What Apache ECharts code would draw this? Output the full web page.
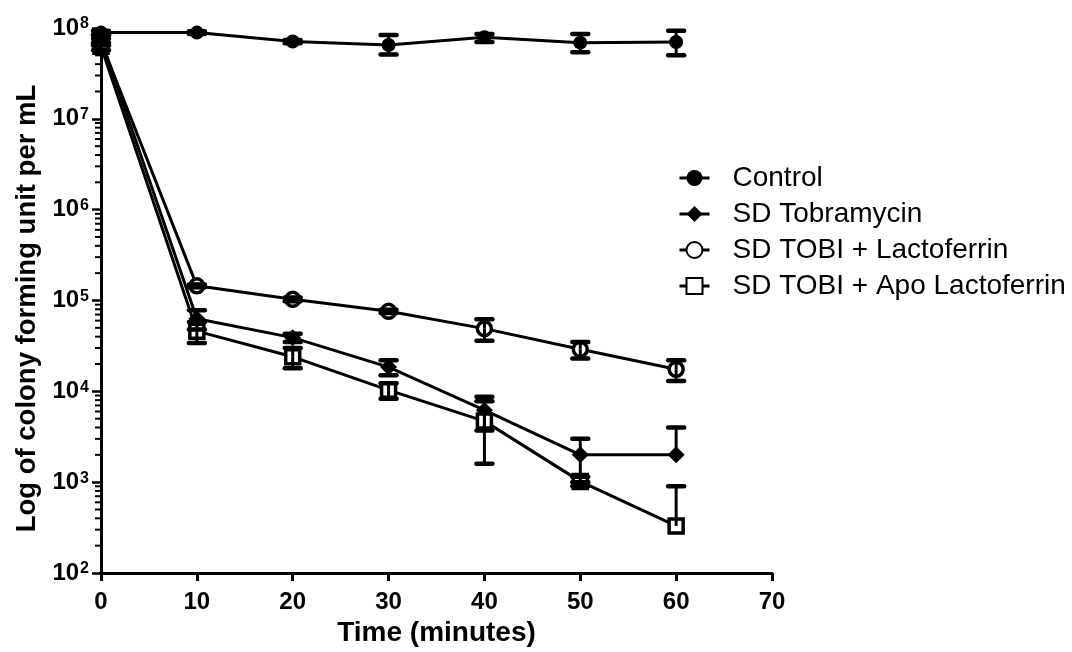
<!DOCTYPE html>
<html>
<head>
<meta charset="utf-8">
<script src="https://cdn.jsdelivr.net/npm/echarts@6/dist/echarts.min.js"></script>
<style>
html,body{margin:0;padding:0;background:#fff;}
#chart{width:1072px;height:652px;}
</style>
</head>
<body>
<div id="chart"></div>
<script>
const timeMinutes = [0, 10, 20, 30, 40, 50, 60];
const seriesNames = ['Control', 'SD Tobramycin', 'SD TOBI + Lactoferrin', 'SD TOBI + Apo Lactoferrin'];

const controlMean  = [8.9e7, 8.9e7, 7.1e7, 6.5e7, 7.9e7, 6.9e7, 7.0e7];
const controlUpper = [9.3e7, 9.2e7, 7.4e7, 8.4e7, 8.6e7, 8.6e7, 9.3e7];
const controlLower = [8.5e7, 8.6e7, 6.8e7, 5.1e7, 7.0e7, 5.4e7, 5.0e7];

const tobraMean  = [7.5e7, 6.3e4, 3.9e4, 1.85e4, 6.2e3, 2.0e3, 2.0e3];
const tobraUpper = [8.3e7, 7.8e4, 4.3e4, 2.2e4, 8.7e3, 3.0e3, 4.0e3];
const tobraLower = [6.7e7, 4.8e4, 3.5e4, 1.5e4, 3.7e3, 1.0e3, null];

const lactoMean  = [7.0e7, 1.45e5, 1.03e5, 7.6e4, 4.9e4, 2.9e4, 1.75e4];
const lactoUpper = [7.6e7, 1.5e5, 1.08e5, 7.9e4, 6.2e4, 3.5e4, 2.2e4];
const lactoLower = [6.4e7, 1.4e5, 0.98e5, 7.3e4, 3.6e4, 2.3e4, 1.3e4];

const apoMean  = [6.3e7, 4.6e4, 2.4e4, 1.03e4, 4.7e3, 1.02e3, 3.3e2];
const apoUpper = [6.9e7, 5.8e4, 3.0e4, 1.23e4, 7.8e3, 1.15e3, 9.0e2];
const apoLower = [5.7e7, 3.4e4, 1.8e4, 8.3e3, 1.6e3, 0.9e3, null];

const xTicks = [0, 10, 20, 30, 40, 50, 60, 70];
const yMin = 1e2, yMax = 1e8;

// minor log ticks (2..9 per decade)
const minorTickValues = [];
for (let e = 2; e < 8; e++) {
  for (let k = 2; k <= 9; k++) minorTickValues.push(k * Math.pow(10, e));
}

const FONT = 'Liberation Sans';

function pts(mean) { return timeMinutes.map((t, i) => [t, mean[i]]); }
function errData(mean, up, lo) {
  return timeMinutes.map((t, i) => [t, mean[i], up[i], lo[i] == null ? 0 : lo[i]]);
}

function errRender(params, api) {
  const x = api.value(0), m = api.value(1), up = api.value(2), lo = api.value(3);
  const pM = api.coord([x, m]);
  const children = [];
  const capHalf = 8;
  const lineStyle = {stroke: '#000', lineWidth: 3};
  const capStyle = {stroke: '#000', lineWidth: 4.5, lineCap: 'round'};
  if (up > 0) {
    const pU = api.coord([x, up]);
    children.push({type: 'line', shape: {x1: pM[0], y1: pM[1], x2: pU[0], y2: pU[1]}, style: lineStyle});
    children.push({type: 'line', shape: {x1: pU[0] - capHalf, y1: pU[1], x2: pU[0] + capHalf, y2: pU[1]}, style: capStyle});
  }
  if (lo > 0) {
    const pL = api.coord([x, lo]);
    children.push({type: 'line', shape: {x1: pM[0], y1: pM[1], x2: pL[0], y2: pL[1]}, style: lineStyle});
    children.push({type: 'line', shape: {x1: pL[0] - capHalf, y1: pL[1], x2: pL[0] + capHalf, y2: pL[1]}, style: capStyle});
  }
  return {type: 'group', children: children};
}

function errSeries(mean, up, lo) {
  return {
    type: 'custom', coordinateSystem: 'cartesian2d', clip: false, z: 5,
    renderItem: errRender, encode: {x: 0, y: 1}, silent: true,
    data: errData(mean, up, lo)
  };
}

function lineSeries(name, mean, symbol, size, filled) {
  return {
    name: name, type: 'line', data: pts(mean), symbol: symbol, symbolSize: size,
    showAllSymbol: true, z: 3,
    lineStyle: {color: '#000', width: 3},
    itemStyle: filled ? {color: '#000', borderColor: '#000', borderWidth: 0}
                      : {color: '#fff', borderColor: '#000', borderWidth: 3.5},
    emphasis: {disabled: true}
  };
}

const chart = echarts.init(document.getElementById('chart'), null, {renderer: 'canvas'});
chart.setOption({
  backgroundColor: '#fff',
  animation: false,
  grid: {left: 101, top: 28, right: 300, bottom: 77, containLabel: false},
  legend: {
    data: seriesNames, orient: 'vertical', left: 673, top: 159,
    itemWidth: 30, itemHeight: 20, itemGap: 8,
    lineStyle: {width: 3},
    textStyle: {fontFamily: FONT, fontSize: 28, color: '#000', lineHeight: 28, padding: [0, 0, 0, 18]}
  },
  xAxis: {
    type: 'value', min: 0, max: 70, interval: 10,
    name: 'Time (minutes)', nameLocation: 'middle', nameGap: 46,
    nameTextStyle: {fontFamily: FONT, fontSize: 28, fontWeight: 'bold', color: '#000'},
    axisLine: {lineStyle: {color: '#000', width: 3}},
    axisTick: {show: true, length: 8, lineStyle: {color: '#000', width: 3}},
    axisLabel: {fontFamily: FONT, fontSize: 24, fontWeight: 'bold', color: '#000', margin: 17,
      formatter: v => xTicks.indexOf(v) >= 0 ? String(v) : ''},
    splitLine: {show: false}
  },
  yAxis: {
    type: 'log', logBase: 10, min: yMin, max: yMax,
    name: 'Log of colony forming unit per mL', nameLocation: 'middle', nameGap: 60,
    nameTextStyle: {fontFamily: FONT, fontSize: 27.5, fontWeight: 'bold', color: '#000', padding: [0, 0, 0, -16]},
    axisLine: {show: true, lineStyle: {color: '#000', width: 3}},
    axisTick: {show: true, length: 9, lineStyle: {color: '#000', width: 2.5}},
    axisLabel: {
      margin: 12,
      formatter: function (v) {
        const e = Math.round(Math.log10(v));
        return '{b|10}{s|' + e + '}';
      },
      rich: {
        b: {fontFamily: FONT, fontSize: 24, fontWeight: 'bold', color: '#000', lineHeight: 24},
        s: {fontFamily: FONT, fontSize: 16, fontWeight: 'bold', color: '#000', lineHeight: 16, verticalAlign: 'top', padding: [0, 0, 0, 1]}
      }
    },
    splitLine: {show: false}
  },
  series: [
    lineSeries(seriesNames[0], controlMean, 'circle', 14, true),
    lineSeries(seriesNames[1], tobraMean, 'diamond', 17, true),
    lineSeries(seriesNames[2], lactoMean, 'circle', 14, false),
    lineSeries(seriesNames[3], apoMean, 'rect', 14, false),
    errSeries(controlMean, controlUpper, controlLower),
    errSeries(tobraMean, tobraUpper, tobraLower),
    errSeries(lactoMean, lactoUpper, lactoLower),
    errSeries(apoMean, apoUpper, apoLower),
    {
      type: 'custom', coordinateSystem: 'cartesian2d', clip: false, silent: true, z: 6,
      encode: {x: 0, y: 1},
      data: minorTickValues.map(v => [0, v]),
      renderItem: function (params, api) {
        const p = api.coord([api.value(0), api.value(1)]);
        return {type: 'line', shape: {x1: p[0] - 6, y1: p[1], x2: p[0], y2: p[1]},
          style: {stroke: '#000', lineWidth: 2}};
      }
    }
  ]
});
</script>
</body>
</html>
